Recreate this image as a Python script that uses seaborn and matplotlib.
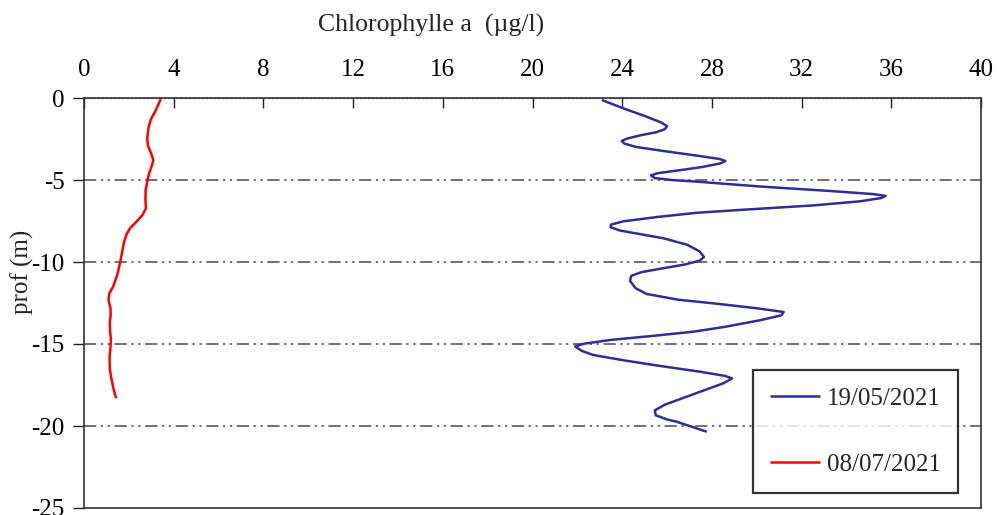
import matplotlib
matplotlib.use("Agg")
import matplotlib.pyplot as plt
import seaborn as sns
import pandas as pd

# --- data ---
date_may = "19/05/2021"
date_jul = "08/07/2021"

chl_may = [23.09, 24.05, 25.09, 25.75, 26.00, 25.90, 25.54, 24.80, 24.20, 23.98,
           24.10, 24.60, 25.83, 27.47, 28.35, 28.60, 28.40, 27.60, 26.58, 25.60,
           25.28, 25.45, 26.20, 27.32, 30.29, 33.27, 35.20, 35.75, 35.55, 34.60,
           32.52, 29.55, 27.32, 25.60, 24.05, 23.50, 23.48, 23.90, 24.80, 25.83,
           26.90, 27.45, 27.65, 27.45, 26.80, 25.83, 24.85, 24.40, 24.35, 24.60,
           25.09, 26.50, 28.06, 30.00, 31.20, 31.10, 30.15, 28.60, 27.17, 25.40,
           23.50, 22.30, 21.90, 22.20, 22.71, 24.00, 25.50, 27.47, 28.60, 28.90,
           28.50, 27.80, 26.88, 25.90, 25.45, 25.50, 26.00, 26.43, 27.77]
depth_may = [-0.12, -0.63, -1.14, -1.50, -1.72, -1.90, -2.08, -2.28, -2.48, -2.62,
             -2.78, -2.98, -3.23, -3.54, -3.72, -3.84, -3.98, -4.20, -4.40, -4.58,
             -4.72, -4.88, -5.00, -5.10, -5.41, -5.67, -5.86, -5.97, -6.10, -6.30,
             -6.55, -6.80, -7.00, -7.25, -7.52, -7.72, -7.88, -8.08, -8.30, -8.55,
             -8.95, -9.35, -9.70, -9.92, -10.15, -10.38, -10.62, -10.85, -11.15, -11.60,
             -11.95, -12.30, -12.52, -12.82, -13.05, -13.25, -13.55, -13.95, -14.25, -14.50,
             -14.75, -14.98, -15.15, -15.42, -15.67, -15.98, -16.30, -16.69, -16.95, -17.10,
             -17.40, -17.75, -18.21, -18.70, -19.05, -19.35, -19.60, -19.74, -20.35]

chl_jul = [3.42, 3.30, 3.17, 2.98, 2.88, 2.82, 2.85, 3.00, 3.09, 3.02,
           2.90, 2.82, 2.75, 2.74, 2.76, 2.60, 2.30, 2.05, 1.90, 1.78,
           1.70, 1.60, 1.48, 1.30, 1.13, 1.09, 1.18, 1.19, 1.15, 1.16,
           1.20, 1.18, 1.14, 1.15, 1.22, 1.31, 1.43]
depth_jul = [-0.06, -0.45, -0.83, -1.30, -1.80, -2.46, -2.90, -3.40, -3.78, -4.15,
             -4.60, -5.10, -5.60, -6.20, -6.73, -7.15, -7.60, -7.95, -8.30, -8.80,
             -9.40, -10.10, -10.80, -11.50, -11.91, -12.32, -12.80, -13.20, -13.70, -14.20,
             -14.70, -15.20, -15.80, -16.50, -17.10, -17.70, -18.31]

x_ticks = [0, 4, 8, 12, 16, 20, 24, 28, 32, 36, 40]
y_ticks = [0, -5, -10, -15, -20, -25]
x_title = "Chlorophylle a  (\u00b5g/l)"
y_title = "prof (m)"

df = pd.concat([
    pd.DataFrame({"chl": chl_may, "depth": depth_may, "date": date_may}),
    pd.DataFrame({"chl": chl_jul, "depth": depth_jul, "date": date_jul}),
], ignore_index=True)

sns.set_style("ticks")
plt.rcParams["font.family"] = ["Liberation Serif", "DejaVu Serif"]
plt.rcParams["axes.unicode_minus"] = False
plt.rcParams["lines.solid_joinstyle"] = "round"
plt.rcParams["lines.solid_capstyle"] = "butt"

fig = plt.figure(figsize=(9.97, 5.15), dpi=100)
ax = fig.add_axes([84 / 997, 1 - 508 / 515, (981 - 84) / 997, (508 - 98) / 515])

sns.lineplot(data=df, x="chl", y="depth", hue="date", sort=False, estimator=None,
             palette={date_may: "#2e2e96", date_jul: "#ff0000"},
             hue_order=[date_may, date_jul], linewidth=1.8, ax=ax)

ax.set_xlim(0, 40)
ax.set_ylim(-25, 0)
ax.set_xticks(x_ticks)
ax.set_yticks(y_ticks)
ax.xaxis.tick_top()
ax.tick_params(axis="x", direction="in", length=7, width=1, labelsize=18, pad=12,
               top=True, bottom=False, colors="#222222", labelcolor="black")
ax.tick_params(axis="y", direction="out", length=8, width=1, labelsize=18, pad=6,
               colors="#222222", labelcolor="black")

for y in y_ticks[1:-1]:
    ax.axhline(y, color="#4a4a4a", lw=1.1, ls=(0, (8, 3, 1.5, 3, 1.5, 3)), zorder=0)
ax.axhline(0, color="#888888", lw=1.0, ls=(0, (2, 1)), zorder=0)

for s in ax.spines.values():
    s.set_visible(True)
    s.set_linewidth(1.2)
    s.set_color("#333333")

ax.xaxis.set_label_position("top")
ax.set_xlabel(x_title, fontsize=18.5)
ax.xaxis.set_label_coords((431 - 84) / 897, 1 + (98 - 25) / 410)
ax.xaxis.label.set_va("center")
ax.set_ylabel(y_title, fontsize=18)
ax.yaxis.set_label_coords((22 - 84) / 897, (508 - 272) / 410)
ax.yaxis.label.set_va("center")

leg = ax.legend(loc="lower right", bbox_to_anchor=(0.974, 0.036), fontsize=18,
                frameon=True, fancybox=False, labelspacing=1.75, handlelength=2.0,
                handletextpad=0.25, borderpad=0.68, borderaxespad=0)
leg.get_frame().set_edgecolor("black")
leg.get_frame().set_linewidth(1.6)
leg.get_frame().set_boxstyle("square", pad=0.0)
for h in leg.get_lines():
    h.set_linewidth(1.8)

fig.savefig("out.png", dpi=100)
